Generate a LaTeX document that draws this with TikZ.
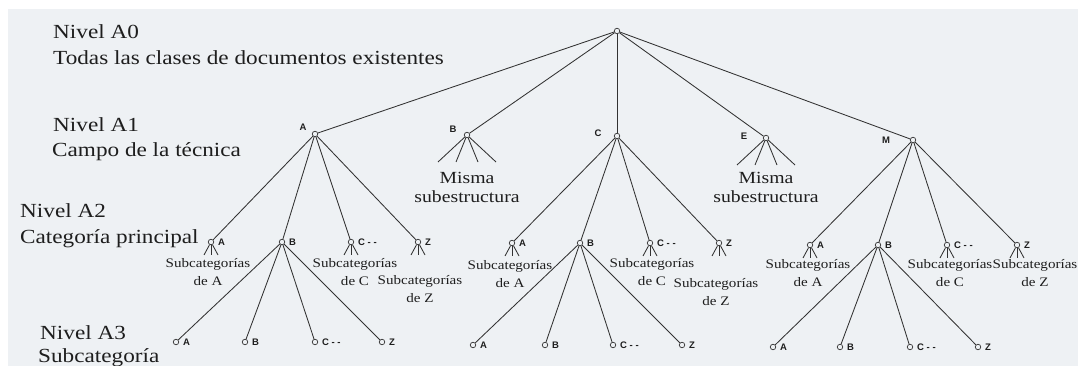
\documentclass[tikz,border=0pt]{standalone}
\usepackage{fontspec}
\setmainfont{Liberation Serif}
\newfontfamily\lvlfont{Liberation Serif}
\newfontfamily\lblfont{Liberation Sans}
\usetikzlibrary{calc}
\definecolor{bg}{RGB}{238,241,244}
\definecolor{ink}{RGB}{50,50,50}
\definecolor{txt}{RGB}{30,30,30}
\newcommand\hs[1]{\scalebox{1.16}[1]{#1}}
\begin{document}
\begin{tikzpicture}[x=1pt,y=-1pt,
  nd/.style={circle,draw=ink,fill=bg,line width=0.7pt,inner sep=0pt,minimum size=5.5pt},
  lnk/.style={draw=ink,line width=0.85pt},
  lvl/.style={anchor=base west,inner sep=0pt,font=\lvlfont\fontsize{20}{24}\selectfont,text=txt},
  lab/.style={inner sep=0pt,font=\lblfont\bfseries\fontsize{9.5}{10}\selectfont,text=txt},
  sublab/.style={inner sep=0pt,align=center,font=\lvlfont\fontsize{13}{17.5}\selectfont,text=txt},
  misma/.style={inner sep=0pt,align=center,font=\lvlfont\fontsize{17}{19}\selectfont,text=txt}]
\useasboundingbox (0,0) rectangle (1078,366);
\fill[white] (0,0) rectangle (1078,366);
\fill[bg] (8,9) rectangle (1078,366);

% level texts
\node[lvl] (t0a) at (53,39) {\hs{Nivel A0}};
\node[lvl] (t0b) at (53,65) {\hs{Todas las clases de documentos existentes}};
\node[lvl] (t1a) at (53,132) {\hs{Nivel A1}};
\node[lvl] (t1b) at (52,157) {\hs{Campo de la técnica}};
\node[lvl] (t2a) at (20,218) {\hs{Nivel A2}};
\node[lvl] (t2b) at (20,243) {\hs{Categoría principal}};
\node[lvl] (t3a) at (40,339) {\hs{Nivel A3}};
\node[lvl] (t3b) at (38,362) {\hs{Subcategoría}};

% root and level A1
\node[nd] (root) at (617,31) {};
\node[nd] (nA) at (315,134) {};
\node[nd] (nB) at (467,135) {};
\node[nd] (nC) at (617,136) {};
\node[nd] (nE) at (766,138) {};
\node[nd] (nM) at (913,140) {};
\node[lab] (lA) at (303,127) {A};
\node[lab] (lB) at (453,129) {B};
\node[lab] (lC) at (598,133) {C};
\node[lab] (lE) at (744,136) {E};
\node[lab] (lM) at (886,140) {M};
\foreach \n in {nA,nB,nC,nE,nM} \draw[lnk] (root) -- (\n);

% Misma subestructura
\foreach \n in {nB,nE}{
  \coordinate (\n-f1) at ($(\n)+(-29,27)$);
  \coordinate (\n-f2) at ($(\n)+(-11,27)$);
  \coordinate (\n-f3) at ($(\n)+(11,27)$);
  \coordinate (\n-f4) at ($(\n)+(29,27)$);
  \foreach \k in {1,2,3,4} \draw[lnk] (\n) -- (\n-f\k);
}
\node[misma] (mB) at (467,187) {\hs{Misma}\\\hs{subestructura}};
\node[misma] (mE) at (766,187) {\hs{Misma}\\\hs{subestructura}};

% level A2
\node[nd] (aA) at (211,242) {};
\node[nd] (aB) at (282,242) {};
\node[nd] (aC) at (351,242) {};
\node[nd] (aZ) at (418,242) {};
\node[nd] (cA) at (512,243) {};
\node[nd] (cB) at (580,243) {};
\node[nd] (cC) at (650,243) {};
\node[nd] (cZ) at (719,243) {};
\node[nd] (mA) at (810,245) {};
\node[nd] (mB2) at (878,245) {};
\node[nd] (mC) at (947,245) {};
\node[nd] (mZ) at (1017,245) {};
\foreach \p/\c in {nA/aA,nA/aB,nA/aC,nA/aZ,nC/cA,nC/cB,nC/cC,nC/cZ,nM/mA,nM/mB2,nM/mC,nM/mZ}
  \draw[lnk] (\p) -- (\c);
\foreach \n/\t in {aA/A,aB/B,aC/{C - -},aZ/Z,cA/A,cB/B,cC/{C - -},cZ/Z,mA/A,mB2/B,mC/{C - -},mZ/Z}
  \node[lab,anchor=west] (\n-l) at ($(\n)+(7,0)$) {\t};
% small fans
\foreach \n in {aA,aC,aZ,cA,cC,cZ,mA,mC,mZ}{
  \coordinate (\n-f1) at ($(\n)+(-7,13)$);
  \coordinate (\n-f2) at ($(\n)+(0,13)$);
  \coordinate (\n-f3) at ($(\n)+(7,13)$);
  \foreach \k in {1,2,3} \draw[lnk] (\n) -- (\n-f\k);
}
% subcategory labels
\node[sublab] (sa1) at (208,272) {\hs{Subcategorías}\\\hs{de A}};
\node[sublab] (sa2) at (355,272) {\hs{Subcategorías}\\\hs{de C}};
\node[sublab] (sa3) at (420,289) {\hs{Subcategorías}\\\hs{de Z}};
\node[sublab] (sc1) at (510,274) {\hs{Subcategorías}\\\hs{de A}};
\node[sublab] (sc2) at (652,272) {\hs{Subcategorías}\\\hs{de C}};
\node[sublab] (sc3) at (716,292) {\hs{Subcategorías}\\\hs{de Z}};
\node[sublab] (sm1) at (808,273) {\hs{Subcategorías}\\\hs{de A}};
\node[sublab] (sm2) at (950,273) {\hs{Subcategorías}\\\hs{de C}};
\node[sublab] (sm3) at (1035,273) {\hs{Subcategorías}\\\hs{de Z}};

% level A3
\node[nd] (aBA) at (176,342) {};
\node[nd] (aBB) at (245,342) {};
\node[nd] (aBC) at (315,342) {};
\node[nd] (aBZ) at (382,342) {};
\node[nd] (cBA) at (473,345) {};
\node[nd] (cBB) at (545,345) {};
\node[nd] (cBC) at (613,345) {};
\node[nd] (cBZ) at (682,345) {};
\node[nd] (mBA) at (773,347) {};
\node[nd] (mBB) at (840,347) {};
\node[nd] (mBC) at (910,347) {};
\node[nd] (mBZ) at (978,347) {};
\foreach \p/\c in {aB/aBA,aB/aBB,aB/aBC,aB/aBZ,cB/cBA,cB/cBB,cB/cBC,cB/cBZ,mB2/mBA,mB2/mBB,mB2/mBC,mB2/mBZ}
  \draw[lnk] (\p) -- (\c);
\foreach \n/\t in {aBA/A,aBB/B,aBC/{C - -},aBZ/Z,cBA/A,cBB/B,cBC/{C - -},cBZ/Z,mBA/A,mBB/B,mBC/{C - -},mBZ/Z}
  \node[lab,anchor=west] (\n-l) at ($(\n)+(7,0)$) {\t};
\end{tikzpicture}
\end{document}
